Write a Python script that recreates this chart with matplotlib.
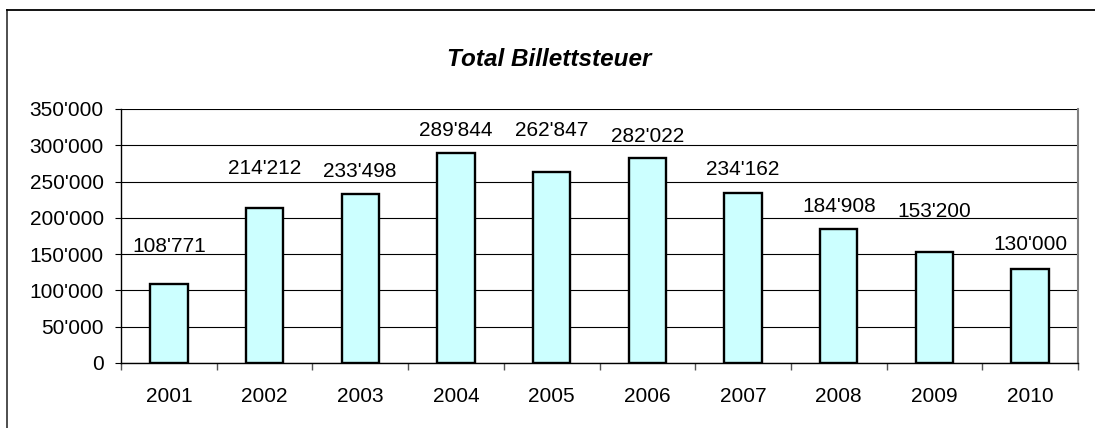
import matplotlib
matplotlib.use("Agg")
import matplotlib.pyplot as plt
from matplotlib.lines import Line2D
from matplotlib.ticker import FuncFormatter, MultipleLocator
import numpy as np

plt.rcParams['font.family'] = ['Liberation Sans', 'DejaVu Sans']

# data
years = ["2001", "2002", "2003", "2004", "2005", "2006", "2007", "2008", "2009", "2010"]
steuer = [108771, 214212, 233498, 289844, 262847, 282022, 234162, 184908, 153200, 130000]

# label baselines (labels were moved by hand in the original chart)
label_y = [153400, 260400, 256700, 312800, 312800, 304500, 258600, 208500, 201600, 155700]


def fmt(v, pos=None):
    return "{:,.0f}".format(v).replace(",", "'")


fig = plt.figure(figsize=(10.95, 4.28), dpi=100)
ax = fig.add_axes([121 / 1095, 65 / 428, 957 / 1095, 254 / 428])

x = np.arange(len(years))
ax.bar(x, steuer, width=0.39, color="#CCFFFF", edgecolor="black", linewidth=1.7, zorder=3)

for xi, v, ly in zip(x, steuer, label_y):
    ax.text(xi, ly, fmt(v), ha="center", va="baseline", fontsize=15)

ax.set_xlim(-0.5, len(years) - 0.5)
ax.set_ylim(0, 350000)
ax.yaxis.set_major_locator(MultipleLocator(50000))
ax.yaxis.set_major_formatter(FuncFormatter(fmt))
ax.grid(axis="y", color="black", linewidth=0.8, zorder=0)

ax.set_xticks(x)
ax.set_xticklabels(years)
ax.set_xticks(np.arange(len(years) + 1) - 0.5, minor=True)
ax.tick_params(axis="x", which="major", length=0, pad=17, labelsize=15)
ax.tick_params(axis="x", which="minor", length=5, color="#555555", width=1)
ax.tick_params(axis="y", length=4.5, width=0.8, pad=8, labelsize=15)

ax.spines["top"].set_visible(False)
ax.spines["left"].set_color("black")
ax.spines["bottom"].set_color("black")
ax.spines["left"].set_linewidth(1)
ax.spines["bottom"].set_linewidth(1)
ax.spines["right"].set_color("#808080")
ax.spines["right"].set_linewidth(1.5)

fig.text(549 / 1095, 1 - 66.5 / 428, "Total Billettsteuer", ha="center", va="baseline",
         fontsize=17.5, fontweight="bold", fontstyle="italic")

# outer chart frame (left and top edges visible)
fig.add_artist(Line2D([7 / 1095, 7 / 1095], [0, 1 - 9.5 / 428], color="#404040", linewidth=1.3))
fig.add_artist(Line2D([7 / 1095, 1], [1 - 9.5 / 428, 1 - 9.5 / 428], color="black", linewidth=1.3))

fig.savefig("out.png", dpi=100)
